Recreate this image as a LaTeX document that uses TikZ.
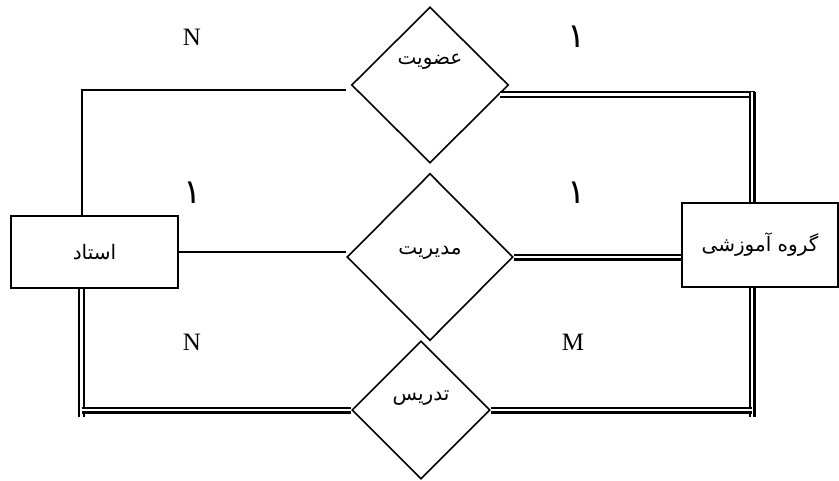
\documentclass[tikz,border=0pt]{standalone}
\usepackage{fontspec}
\setmainfont{Liberation Serif}
\newfontfamily\fa[Script=Arabic]{DejaVu Sans}
\TeXXeTstate=1
\usetikzlibrary{shapes.geometric,calc}

\begin{document}
\begin{tikzpicture}[x=1pt,y=-1pt,
  every node/.style={inner sep=0pt},
  entity/.style={draw, line width=1.7pt, rectangle},
  relation/.style={draw, line width=1.6pt, diamond},
  faname/.style={font=\fa\fontsize{20}{24}\selectfont},
  faone/.style={font=\fa\fontsize{34}{40}\selectfont},
  card/.style={font=\fontsize{25}{28}\selectfont},
  single/.style={line width=1.7pt},
  dbl/.style={double, double distance=2.4pt, line width=2.3pt}]

\useasboundingbox (0,0) rectangle (839,480);

% entities
\node[entity, minimum width=167pt, minimum height=72pt, faname] (ostad) at (94.5,252) {\beginR استاد\endR};
\node[entity, minimum width=156pt, minimum height=84pt, faname] (grp) at (760,245) {\beginR گروه آموزشی\endR};

% relationships
\node[relation, minimum width=157pt, minimum height=156pt,
  label={[faname, yshift=23pt]center:{\beginR عضویت\endR}}] (D1) at (430,85) {};
\node[relation, minimum width=166pt, minimum height=167pt,
  label={[faname, yshift=4pt]center:{\beginR مدیریت\endR}}] (D2) at (430,257) {};
\node[relation, minimum width=138pt, minimum height=138pt,
  label={[faname, yshift=12pt]center:{\beginR تدریس\endR}}] (D3) at (421,410) {};

% corner points of the double connectors
\coordinate (d1e) at ($(D1.east)+(-9.5,9.5)$);
\coordinate (kr) at ($(grp.north west)+(71,0)$);
\coordinate (kl) at ($(ostad.south west)+(71.5,0)$);
\coordinate (kb) at ($(grp.south west)+(71,0)$);

% connectors
\draw[single] ($(ostad.north west)+(72,0)$) |- ($(D1.west)+(-5,5)$);
\draw[dbl] (d1e) -- ([xshift=2.5pt]d1e -| kr);
\draw[dbl] ([yshift=2.5pt]kr |- d1e) -- (kr);
\draw[single] (ostad.east) -- (ostad.east -| D2.west);
\draw[dbl] (D2.east) -- (D2.east -| grp.west);
\draw[dbl] (kl) -- ([yshift=-7pt]kl |- D3.west);
\draw[dbl] (kl |- D3.west) -- (D3.west);
\draw[dbl] (kb) -- ([yshift=-7pt]kb |- D3.east);
\draw[dbl] (D3.east) -- (D3.east -| kb);

% cardinalities
\node[card] (c1) at (192,37) {N};
\node[faone] (c2) at (577,37) {۱};
\node[faone] (c3) at (193,193) {۱};
\node[faone] (c4) at (577,193) {۱};
\node[card] (c5) at (192,342) {N};
\node[card] (c6) at (573,342) {M};
\end{tikzpicture}
\end{document}
